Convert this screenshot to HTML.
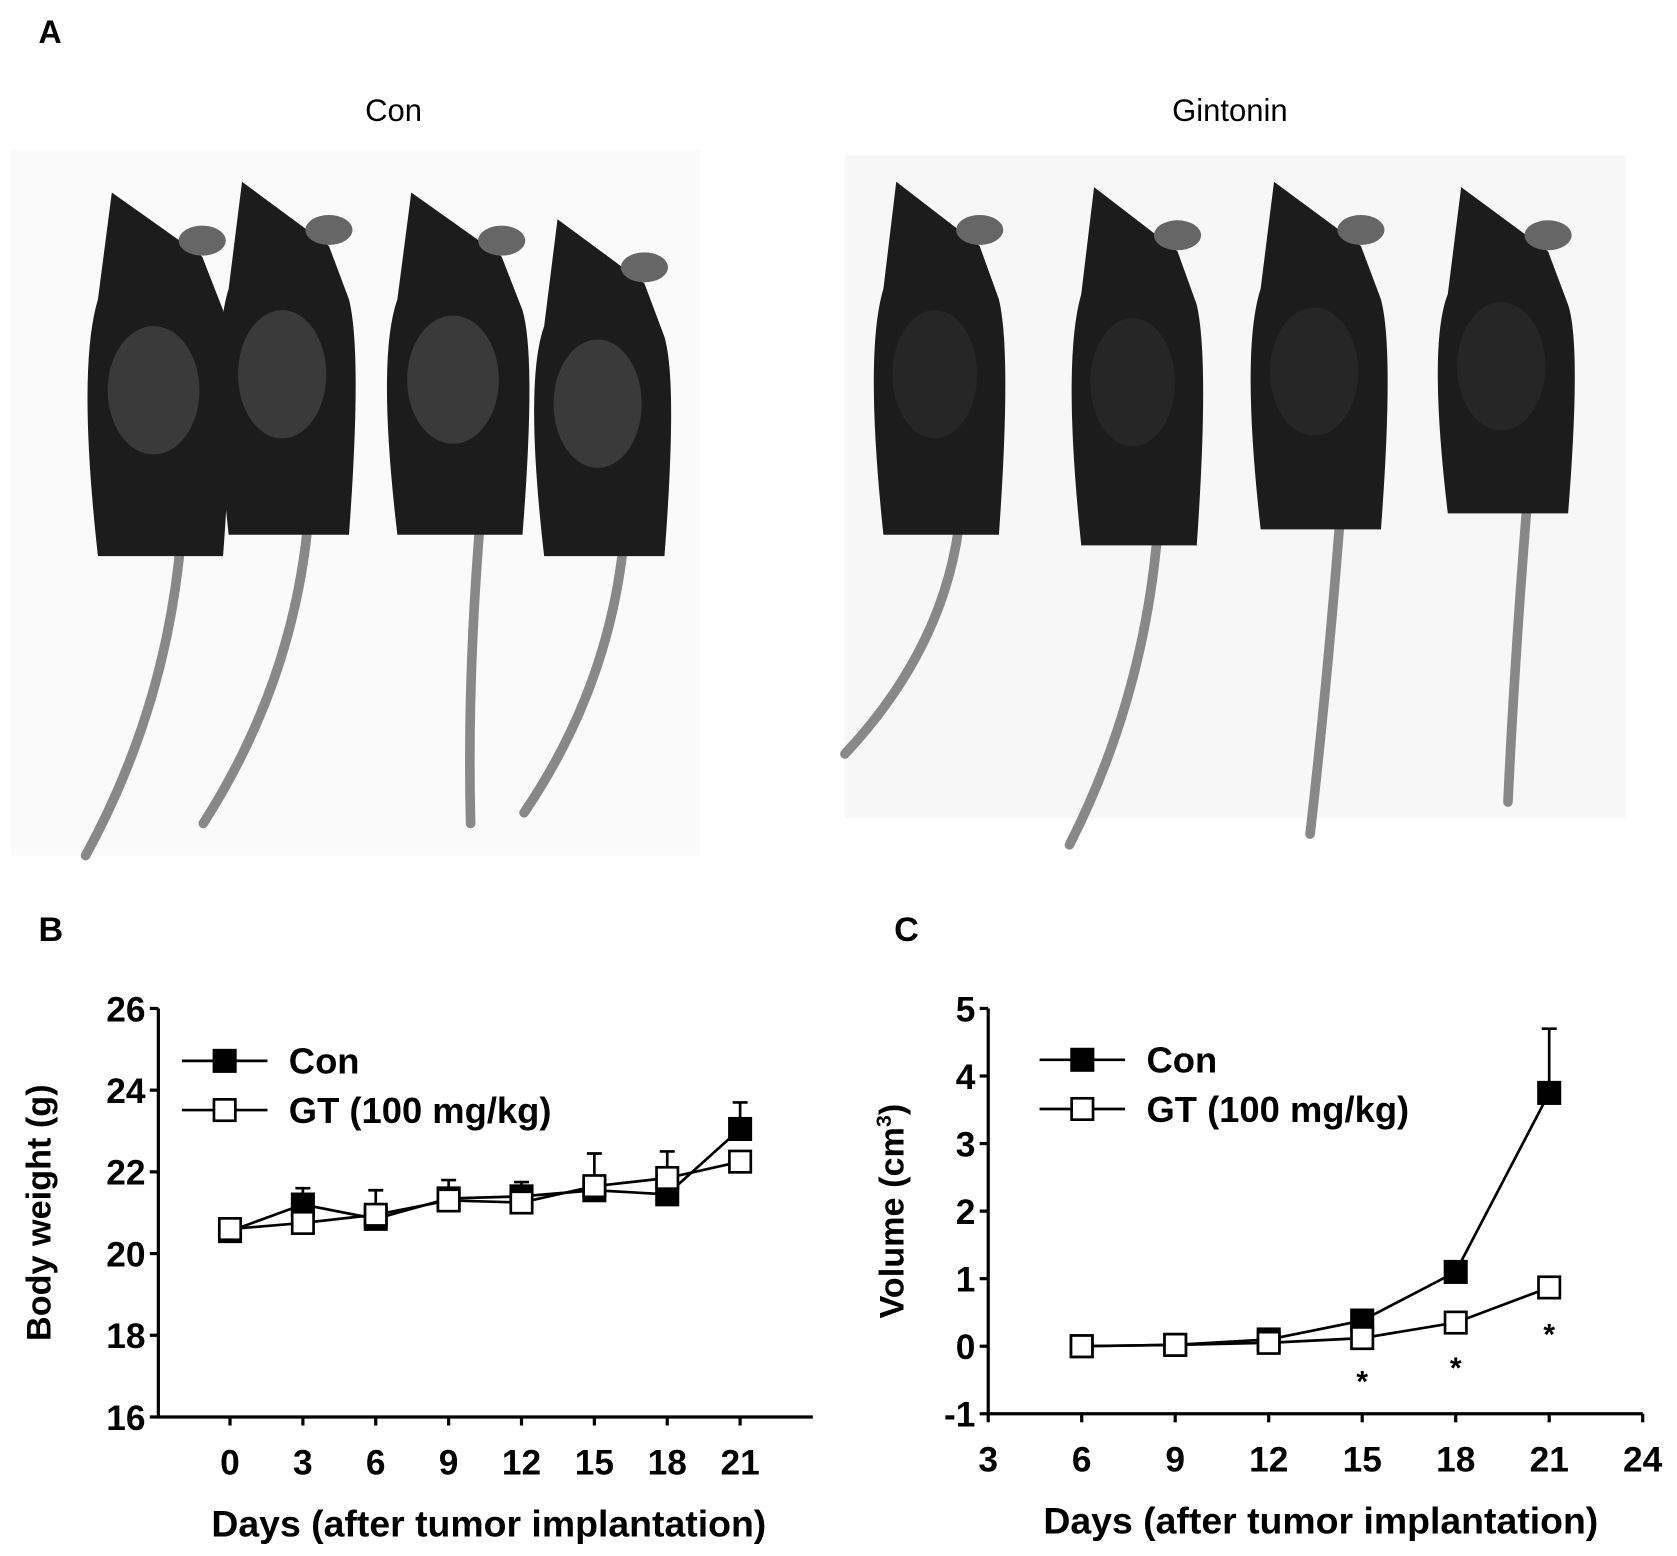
<!DOCTYPE html>
<html><head><meta charset="utf-8"><style>
html,body{margin:0;padding:0;background:#fff}
svg{display:block}
text{font-family:"Liberation Sans",Arial,sans-serif;font-weight:bold;fill:#000}
</style></head><body>
<svg id="fig" width="1677" height="1556" viewBox="0 0 1568 1455" xmlns="http://www.w3.org/2000/svg">
<text x="36" y="40" font-size="30">A</text>
<text x="368" y="113" font-size="29" text-anchor="middle" style="font-weight:normal">Con</text>
<text x="1150" y="113" font-size="29" text-anchor="middle" style="font-weight:normal">Gintonin</text>
<rect x="10" y="140" width="645" height="660" fill="#fafafa"/>
<rect x="790" y="145" width="730" height="620" fill="#f7f7f7"/>
<g id="mice"></g>
<text x="36" y="880" font-size="32">B</text>
<text x="836" y="880" font-size="32">C</text>
<g id="chartB"></g>
<g id="chartC"></g>
</svg>
<script>
// Chart B data
const bDays=[0,3,6,9,12,15,18,21];
const bCon=[20.55,21.2,20.85,21.35,21.4,21.55,21.45,23.05];
const bConErr=[0,0.4,0.2,0.45,0.35,0.1,0.1,0.65];
const bGT=[20.6,20.75,20.95,21.3,21.25,21.65,21.85,22.25];
const bGTErr=[0,0.1,0.6,0.1,0.1,0.8,0.65,0.1];
const bYTicks=[16,18,20,22,24,26];
// Chart C data
const cDays=[6,9,12,15,18,21];
const cCon=[0,0.02,0.1,0.38,1.1,3.75];
const cConErr=[0,0,0,0,0,0.95];
const cGT=[0,0.02,0.05,0.12,0.35,0.87];
const cGTErr=[0,0,0,0,0,0];
const cStars=[15,18,21];
const cStarY=[-0.45,-0.25,0.25];
const cXTicks=[3,6,9,12,15,18,21,24];
const cYTicks=[-1,0,1,2,3,4,5];
const NS='http://www.w3.org/2000/svg';
function mk(p,tag,attrs){const e=document.createElementNS(NS,tag);for(const k in attrs)e.setAttribute(k,attrs[k]);p.appendChild(e);return e;}
function txt(p,x,y,s,size,anchor){const t=mk(p,'text',{x:x,y:y,'font-size':size,'text-anchor':anchor||'middle'});t.textContent=s;return t;}

// mice
const mg=document.getElementById('mice');
const mice=[[150,170,520,130,80,800],[270,160,500,125,190,770],[430,170,500,130,440,770],[565,195,520,125,490,760],
[880,160,500,120,790,705],[1065,165,510,120,1000,790],[1235,160,495,125,1225,780],[1410,165,480,125,1410,750]];
mice.forEach((m,i)=>{const [cx,top,bot,w,tx,ty]=m;
 const g=mk(mg,'g',{});
 
 
 mk(g,'path',{d:`M${cx+w*0.15},${bot-20} Q${cx+w*0.05},${(bot+ty)/2} ${tx},${ty}`,stroke:'#888',"stroke-width":9,fill:'none','stroke-linecap':'round'});
 mk(g,'path',{d:`M${cx-w*0.35},${top+10} L${cx+w*0.3},${top+70} L${cx+w*0.45},${top+120} Q${cx+w*0.55},${(top+bot)/2} ${cx+w*0.45},${bot} L${cx-w*0.45},${bot} Q${cx-w*0.6},${(top+bot)/2} ${cx-w*0.45},${top+110} Z`,fill:'#1c1c1c'});
 mk(g,'ellipse',{cx:cx+w*0.3,cy:top+55,rx:22,ry:14,fill:'#666'});
 mk(g,'ellipse',{cx:cx-w*0.05,cy:(top+bot)/2+20,rx:w*0.33,ry:60,fill:i<4?'#3a3a3a':'#262626'});
});

function chart(gid,o){
 const g=document.getElementById(gid);
 const X=v=>o.x0+(v-o.xmin)*(o.x1-o.x0)/(o.xmax-o.xmin);
 const Y=v=>o.y0-(v-o.ymin)*(o.y0-o.y1)/(o.ymax-o.ymin);
 const ax=mk(g,'path',{d:`M${o.x0},${Y(o.ymax)} L${o.x0},${o.y0} L${o.axEnd},${o.y0}`,stroke:'#000','stroke-width':3,fill:'none'});
 
 o.yt.forEach(v=>{mk(g,'line',{x1:o.x0-8,x2:o.x0,y1:Y(v),y2:Y(v),stroke:'#000','stroke-width':3});
  const t=txt(g,o.x0-12,Y(v)+12,String(v),33,'end');});
 o.xt.forEach(v=>{mk(g,'line',{x1:X(v),x2:X(v),y1:o.y0,y2:o.y0+8,stroke:'#000','stroke-width':3});
  const t=txt(g,X(v),o.y0+54,String(v),33);});
 const xt=txt(g,o.xtitleX,o.y0+112,'Days (after tumor implantation)',35);
 
 const yt=mk(g,'text',{x:0,y:0,'font-size':32,'text-anchor':'middle',transform:`translate(${o.ytitleX},${(Y(o.ymax)+o.y0)/2}) rotate(-90)`});
 yt.innerHTML=o.ytitle;
 const series=[[o.con,o.conErr,'#000','con'],[o.gt,o.gtErr,'#fff','gt']];
 series.forEach(s=>{const [vals,err,fill,nm]=s;
  const pts=vals.map((v,i)=>X(o.days[i])+','+Y(v)).join(' ');
  const l=mk(g,'polyline',{points:pts,stroke:'#000','stroke-width':2.5,fill:'none'});
  
 });
 series.forEach(s=>{const [vals,err,fill,nm]=s;
  vals.forEach((v,i)=>{ if(err[i]>0){const e=mk(g,'path',{d:`M${X(o.days[i])},${Y(v)} L${X(o.days[i])},${Y(v+err[i])} M${X(o.days[i])-7},${Y(v+err[i])} L${X(o.days[i])+7},${Y(v+err[i])}`,stroke:'#000','stroke-width':2.5,fill:'none'});
   }
   const r=mk(g,'rect',{x:X(o.days[i])-10,y:Y(v)-10,width:20,height:20,fill:fill,stroke:'#000','stroke-width':2.5});
   });
 });
 [[o.legY1,'#000','Con'],[o.legY2,'#fff','GT (100 mg/kg)']].forEach(L=>{
  const lg=mk(g,'g',{});
  mk(lg,'line',{x1:o.legX-40,x2:o.legX+40,y1:L[0],y2:L[0],stroke:'#000','stroke-width':2.5});
  mk(lg,'rect',{x:o.legX-10,y:L[0]-10,width:20,height:20,fill:L[1],stroke:'#000','stroke-width':2.5});
  txt(lg,o.legX+60,L[0]+12,L[2],34,'start');
 });
 return {X,Y,g};
}
chart('chartB',{x0:148,x1:692,xmin:-2.95,xmax:21,axEnd:760,y0:1325,y1:943,ymin:16,ymax:26,
 xt:bDays,yt:bYTicks,days:bDays,con:bCon,conErr:bConErr,gt:bGT,gtErr:bGTErr,
 xtitleX:457,ytitleX:47,ytitle:'Body weight (g)',legX:210,legY1:992,legY2:1038});
const C=chart('chartC',{x0:924,x1:1536,xmin:3,xmax:24,axEnd:1536,y0:1322,y1:943,ymin:-1,ymax:5,
 xt:cXTicks,yt:cYTicks,days:cDays,con:cCon,conErr:cConErr,gt:cGT,gtErr:cGTErr,
 xtitleX:1235,ytitleX:845,ytitle:'Volume (cm<tspan dy="-12" font-size="20">3</tspan><tspan dy="12">)</tspan>',legX:1012,legY1:991,legY2:1037});
cStars.forEach((d,i)=>{const t=txt(C.g,C.X(d),C.Y(cStarY[i])+14,'*',28);
 
 });
</script>
</body></html>
